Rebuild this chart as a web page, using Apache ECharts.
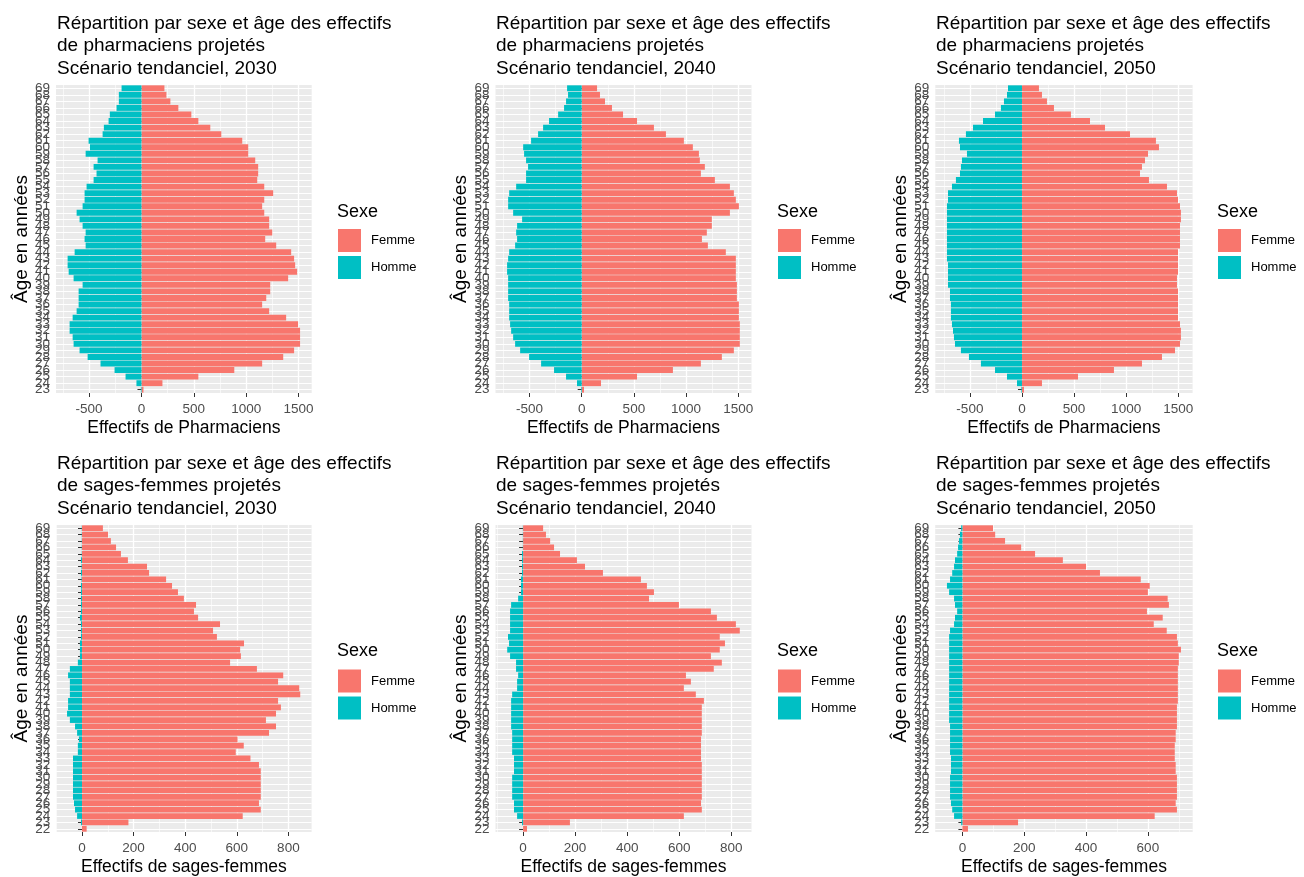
<!DOCTYPE html>
<html><head><meta charset="utf-8">
<script src="https://cdn.jsdelivr.net/npm/echarts@6/dist/echarts.min.js"></script>
<style>html,body{margin:0;padding:0;background:#fff}#c{width:1304px;height:877px}</style>
</head><body><div id="c"></div>
<script>
// ---- categories (top to bottom) ----
const agesPharma = [69,68,67,66,65,64,63,62,61,60,59,58,57,56,55,54,53,52,51,50,49,48,47,46,45,44,43,42,41,40,39,38,37,36,35,34,33,32,31,30,29,28,27,26,25,24,23];
const agesSages = [69,68,67,66,65,64,63,62,61,60,59,58,57,56,55,54,53,52,51,50,49,48,47,46,45,44,43,42,41,40,39,38,37,36,35,34,33,32,31,30,29,28,27,26,25,24,23,22];

// ---- pharmaciens (ages 69 -> 23) ----
const pharma2030Femme = [219,238,276,352,476,543,657,762,962,1019,1019,1086,1114,1114,1105,1172,1257,1172,1152,1172,1219,1219,1248,1181,1286,1429,1457,1467,1486,1400,1229,1229,1191,1152,1219,1381,1495,1514,1514,1514,1457,1353,1152,886,543,200,19];
const pharma2030Homme = [-190,-216,-216,-238,-302,-314,-359,-371,-505,-492,-533,-419,-457,-429,-457,-524,-543,-543,-562,-619,-591,-562,-533,-543,-533,-638,-705,-705,-695,-648,-562,-600,-600,-600,-619,-657,-686,-686,-657,-648,-591,-514,-391,-257,-152,-48,-6];
const pharma2040Femme = [147,175,223,290,396,530,692,807,979,1065,1123,1132,1180,1142,1276,1420,1458,1477,1506,1420,1247,1247,1199,1152,1209,1381,1477,1477,1477,1477,1487,1487,1487,1506,1506,1506,1515,1515,1515,1515,1458,1343,1142,874,530,185,22];
const pharma2040Homme = [-140,-131,-150,-169,-226,-313,-370,-418,-485,-561,-552,-533,-514,-533,-533,-628,-695,-705,-705,-657,-571,-619,-628,-619,-638,-695,-705,-715,-715,-705,-705,-705,-705,-695,-695,-695,-686,-676,-657,-638,-590,-504,-389,-265,-150,-45,-6];
const pharma2050Femme = [163,192,240,307,470,653,797,1037,1286,1315,1210,1181,1152,1133,1219,1392,1488,1498,1517,1526,1526,1517,1517,1517,1517,1498,1498,1498,1498,1488,1488,1498,1498,1498,1498,1498,1517,1526,1526,1517,1469,1344,1152,883,538,192,19];
const pharma2050Homme = [-134,-144,-173,-202,-259,-374,-470,-538,-605,-595,-528,-576,-586,-595,-634,-672,-710,-710,-720,-720,-720,-720,-720,-720,-720,-720,-720,-710,-710,-710,-710,-691,-691,-682,-682,-682,-672,-662,-653,-643,-586,-509,-394,-259,-144,-48,-6];

// ---- sages-femmes (ages 69 -> 22) ----
const sages2030Femme = [81,101,112,132,151,178,252,260,326,349,372,395,442,434,450,535,508,523,628,613,616,574,678,780,760,842,846,760,771,752,713,752,725,603,627,596,653,686,693,693,693,693,693,686,693,623,180,18];
const sages2030Homme = [-1,-1,-1,-1,-1,-4,-2,-4,-2,-4,-4,-4,-4,-4,-8,-4,-4,-4,-8,-8,-8,-16,-47,-54,-47,-47,-47,-54,-54,-58,-47,-27,-19,-12,-16,-16,-35,-35,-35,-35,-35,-35,-35,-31,-27,-19,-4,0];
const sages2040Femme = [77,88,104,119,142,207,238,307,453,476,503,484,599,722,745,818,833,756,776,756,722,764,733,626,645,618,664,695,687,687,687,687,687,684,684,684,684,687,687,687,687,687,687,684,687,618,180,15];
const sages2040Homme = [-1,-1,-1,-1,-4,-4,-4,-4,-8,-8,-8,-19,-46,-50,-50,-50,-50,-58,-54,-61,-50,-27,-27,-19,-23,-23,-42,-46,-46,-46,-46,-46,-42,-42,-42,-42,-35,-35,-35,-42,-42,-42,-42,-35,-35,-23,-4,0];
const sages2050Femme = [99,106,138,190,235,325,400,445,577,606,600,664,668,597,648,619,661,694,697,707,700,700,697,697,697,697,697,697,694,694,694,694,690,690,687,687,687,690,690,694,694,694,694,690,694,622,180,18];
const sages2050Homme = [-4,-8,-11,-14,-17,-24,-27,-33,-40,-50,-43,-27,-24,-17,-24,-27,-40,-43,-43,-43,-43,-43,-43,-43,-43,-43,-43,-43,-43,-43,-43,-40,-40,-40,-40,-40,-37,-37,-37,-40,-40,-40,-40,-37,-33,-27,-4,0];

// ---- tick labels ----
const pharmaTicks = [-500, 0, 500, 1000, 1500];
const pharmaMinorTicks = [-750, -250, 250, 750, 1250];
const sagesTicks = [0, 200, 400, 600, 800];
const sagesMinorTicks = [-100, 100, 300, 500, 700];

// ---- texts ----
const titlesPharma = [
  'Répartition par sexe et âge des effectifs\nde pharmaciens projetés\nScénario tendanciel, 2030',
  'Répartition par sexe et âge des effectifs\nde pharmaciens projetés\nScénario tendanciel, 2040',
  'Répartition par sexe et âge des effectifs\nde pharmaciens projetés\nScénario tendanciel, 2050'];
const titlesSages = [
  'Répartition par sexe et âge des effectifs\nde sages-femmes projetés\nScénario tendanciel, 2030',
  'Répartition par sexe et âge des effectifs\nde sages-femmes projetés\nScénario tendanciel, 2040',
  'Répartition par sexe et âge des effectifs\nde sages-femmes projetés\nScénario tendanciel, 2050'];
const seriesNames = ['Femme', 'Homme'];
const legendTitle = 'Sexe';
const yName = 'Âge en années';
const xNamePharma = 'Effectifs de Pharmaciens';
const xNameSages = 'Effectifs de sages-femmes';

const FONT = '"Liberation Sans", Arial, Helvetica, sans-serif';
const COL_F = '#F8766D', COL_H = '#00BFC4';

const panels = [
  {F: pharma2030Femme, H: pharma2030Homme, ages: agesPharma, ticks: pharmaTicks, minor: pharmaMinorTicks, min: -816, max: 1625, left: 56, width: 255.7, top: 85, height: 308, title: titlesPharma[0], xname: xNamePharma, lx: 338, ly: 229, tx: 57, ty: 12.5, sy: 203},
  {F: pharma2040Femme, H: pharma2040Homme, ages: agesPharma, ticks: pharmaTicks, minor: pharmaMinorTicks, min: -826, max: 1627, left: 495.5, width: 256, top: 85, height: 308, title: titlesPharma[1], xname: xNamePharma, lx: 778, ly: 229, tx: 496, ty: 12.5, sy: 203},
  {F: pharma2050Femme, H: pharma2050Homme, ages: agesPharma, ticks: pharmaTicks, minor: pharmaMinorTicks, min: -832, max: 1638, left: 935.3, width: 257.3, top: 85, height: 308, title: titlesPharma[2], xname: xNamePharma, lx: 1218, ly: 229, tx: 936, ty: 12.5, sy: 203},
  {F: sages2030Femme, H: sages2030Homme, ages: agesSages, ticks: sagesTicks, minor: sagesMinorTicks, min: -100, max: 890, left: 56.2, width: 255.4, top: 525, height: 307.5, title: titlesSages[0], xname: xNameSages, lx: 338, ly: 669.5, tx: 57, ty: 452.5, sy: 642},
  {F: sages2040Femme, H: sages2040Homme, ages: agesSages, ticks: sagesTicks, minor: sagesMinorTicks, min: -106, max: 878, left: 495.5, width: 256, top: 525, height: 307.5, title: titlesSages[1], xname: xNameSages, lx: 778, ly: 669.5, tx: 496, ty: 452.5, sy: 642},
  {F: sages2050Femme, H: sages2050Homme, ages: agesSages, ticks: sagesTicks, minor: sagesMinorTicks, min: -88, max: 745, left: 935.2, width: 257.5, top: 525, height: 307.5, title: titlesSages[2], xname: xNameSages, lx: 1218, ly: 669.5, tx: 936, ty: 452.5, sy: 642}
];

const grid = [], xAxis = [], yAxis = [], series = [], legend = [], title = [];
panels.forEach((p, k) => {
  grid.push({left: p.left, top: p.top, width: p.width, height: p.height, show: true, backgroundColor: '#EBEBEB', borderWidth: 0, containLabel: false});
  const major = p.ticks.filter(v => v >= p.min && v <= p.max);
  const minor = p.minor.filter(v => v >= p.min && v <= p.max);
  xAxis.push({
    gridIndex: k, type: 'value', min: p.min, max: p.max, position: 'bottom',
    axisLine: {show: false},
    axisTick: {show: true, length: 4, customValues: major, lineStyle: {color: '#333333', width: 1}},
    axisLabel: {show: true, customValues: major, color: '#4D4D4D', fontSize: 13.5, fontFamily: FONT, margin: 9.5,
      formatter: v => String(v)},
    splitLine: {show: true, lineStyle: {color: '#FFFFFF', width: 1.3}},
    minorSplitLine: {show: false},
    name: p.xname, nameLocation: 'middle', nameGap: 26,
    nameTextStyle: {color: '#000', fontSize: 17.5, fontFamily: FONT}
  });
  xAxis.push({
    gridIndex: k, type: 'value', min: p.min, max: p.max, position: 'top',
    axisLine: {show: false},
    axisTick: {show: false, customValues: minor},
    axisLabel: {show: false, customValues: minor},
    splitLine: {show: true, lineStyle: {color: '#FFFFFF', width: 0.6}}
  });
  yAxis.push({
    gridIndex: k, type: 'category', data: p.ages, inverse: true,
    axisLine: {show: false},
    axisTick: {show: true, alignWithLabel: true, interval: 0, length: 4, lineStyle: {color: '#333333', width: 1}},
    axisLabel: {show: true, interval: 0, color: '#4D4D4D', fontSize: 13.5, fontFamily: FONT, margin: 6},
    splitLine: {show: true, interval: 0, alignWithLabel: true, lineStyle: {color: '#FFFFFF', width: 1.2}},
    name: yName, nameLocation: 'middle', nameGap: 25, nameRotate: 90,
    nameTextStyle: {color: '#000', fontSize: 19, fontFamily: FONT}
  });
  series.push({type: 'bar', name: seriesNames[0], xAxisIndex: 2 * k, yAxisIndex: k, stack: 's' + k, data: p.F,
    barCategoryGap: '10%', itemStyle: {color: COL_F}, emphasis: {disabled: true}});
  series.push({type: 'bar', name: seriesNames[1], xAxisIndex: 2 * k, yAxisIndex: k, stack: 's' + k, data: p.H,
    barCategoryGap: '10%', itemStyle: {color: COL_H}, emphasis: {disabled: true}});
  legend.push({left: p.lx, top: p.ly, padding: 0, orient: 'vertical', icon: 'rect', itemWidth: 23, itemHeight: 23, itemGap: 4,
    data: seriesNames, selectedMode: false,
    textStyle: {fontSize: 13, color: '#000', fontFamily: FONT, padding: [0, 0, 0, 5]}});
  title.push({left: p.tx, top: p.ty, padding: 0, text: p.title, textStyle: {fontSize: 19, fontWeight: 'normal', color: '#000', lineHeight: 22.5, fontFamily: FONT}});
  title.push({left: p.lx - 1, top: p.sy, padding: 0, text: legendTitle, textStyle: {fontSize: 18, fontWeight: 'normal', color: '#000', fontFamily: FONT}});
});

const chart = echarts.init(document.getElementById('c'), null, {renderer: 'canvas'});
chart.setOption({animation: false, backgroundColor: '#FFFFFF', title, legend, grid, xAxis, yAxis, series});
</script></body></html>
